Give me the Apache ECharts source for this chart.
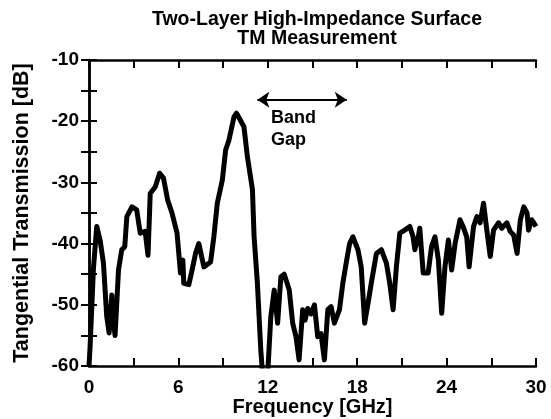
<!DOCTYPE html>
<html><head><meta charset="utf-8">
<script src="https://cdn.jsdelivr.net/npm/echarts@6/dist/echarts.min.js"></script>
<style>html,body{margin:0;padding:0;background:#fff}#c{width:551px;height:419px}</style>
</head><body><div id="c"></div>
<script>
const titleLines = ['Two-Layer High-Impedance Surface', 'TM Measurement'];
const xName = 'Frequency [GHz]';
const yName = 'Tangential Transmission [dB]';
const xTicks = [0, 6, 12, 18, 24, 30];
const yTicks = [-10, -20, -30, -40, -50, -60];
const bandGap = [11.3, 17.3];
const bandGapLevel = -16.5;
const bandGapText = ['Band', 'Gap'];

const freq = [0, 0.07, 0.3, 0.52, 0.75, 0.97, 1.19, 1.35, 1.53, 1.6, 1.75, 1.98, 2.2, 2.4, 2.54, 2.88, 3.2, 3.44, 3.77, 3.96, 4.11, 4.45, 4.74, 5.0, 5.28, 5.57, 5.91, 6.14, 6.3, 6.36, 6.7, 6.92, 7.15, 7.37, 7.71, 8.16, 8.38, 8.61, 8.95, 9.17, 9.39, 9.73, 9.9, 10.4, 10.63, 10.97, 11.08, 11.3, 11.53, 11.64, 12.0, 12.2, 12.43, 12.66, 12.88, 13.1, 13.44, 13.67, 13.89, 14.1, 14.34, 14.5, 14.68, 14.9, 15.13, 15.35, 15.57, 15.8, 16.03, 16.25, 16.47, 16.81, 17.04, 17.26, 17.49, 17.71, 18.05, 18.27, 18.5, 18.73, 18.95, 19.29, 19.62, 19.96, 20.18, 20.41, 20.63, 20.86, 21.19, 21.53, 21.75, 21.87, 22.1, 22.2, 22.43, 22.76, 22.99, 23.22, 23.45, 23.67, 23.89, 24.12, 24.34, 24.57, 24.9, 25.1, 25.35, 25.51, 25.81, 26.03, 26.25, 26.48, 26.7, 26.93, 27.15, 27.49, 27.7, 28.05, 28.27, 28.5, 28.73, 28.95, 29.18, 29.4, 29.5, 29.7, 29.85, 30];
const trans = [-60, -57, -44, -37.2, -39.5, -43.2, -51.9, -54.6, -48.4, -52, -55, -44.3, -41, -40.5, -35.6, -34, -34.5, -38.3, -38, -41.9, -31.8, -30.7, -28.5, -29.3, -32.9, -35.0, -38.3, -44.8, -42.7, -46.5, -46.7, -44.3, -41.6, -40.0, -43.8, -43, -38.9, -33.4, -29.6, -24.7, -23.1, -19.3, -18.7, -20.9, -25.8, -31.2, -38.9, -46.4, -57.4, -61, -61, -52, -47.6, -53, -45.4, -45, -47.6, -53, -55.2, -59, -50.8, -52.5, -50.6, -51.5, -50, -55.2, -54.7, -59, -50.8, -50.3, -53, -50.8, -46.4, -43.2, -40.0, -38.9, -41, -43.8, -53, -49.7, -46.4, -41.6, -41, -43.2, -46.4, -50.8, -43.8, -38.3, -37.8, -37.2, -38.9, -41, -38.9, -37.5, -44.8, -44.8, -40.5, -38.9, -42.7, -51.4, -43.8, -39.4, -44.3, -40.0, -36.1, -37.2, -38.9, -43.8, -37.2, -35.6, -36.6, -33.4, -37.8, -42.1, -37.8, -36.6, -37.5, -36.6, -38, -38.6, -41.6, -36.1, -34, -35, -37.8, -36.1, -36.6, -37.2];

const font = 'Liberation Sans, Arial, sans-serif';
const chart = echarts.init(document.getElementById('c'), null, {renderer: 'canvas'});
const xMin = 0, xMax = 30, yMin = -60, yMax = -10;
const tickStyle = {show: true, inside: true, length: 8, lineStyle: {color: '#000', width: 2}};
const lineStyle = {show: true, lineStyle: {color: '#000', width: 2.5}};
const tickLbl = {color: '#000', fontFamily: font, fontWeight: 'bold', fontSize: 19};

chart.setOption({
  animation: false,
  backgroundColor: '#fff',
  title: {
    text: titleLines.join('\n'), left: 312, top: 5, textAlign: 'center',
    textStyle: {fontFamily: font, fontWeight: 'bold', fontSize: 19.5, lineHeight: 19, color: '#000'}
  },
  grid: {left: 89, top: 60, width: 447, height: 306, show: false, containLabel: false, outerBoundsMode: 'none'},
  xAxis: [{
    type: 'value', min: xMin, max: xMax, interval: 3, position: 'bottom',
    name: xName, nameLocation: 'middle', nameGap: 31, nameMoveOverlap: false,
    nameTextStyle: {color: '#000', fontFamily: font, fontWeight: 'bold', fontSize: 20},
    axisLine: lineStyle, axisTick: tickStyle, splitLine: {show: false},
    axisLabel: Object.assign({margin: 12, formatter: v => (xTicks.includes(v) ? String(v) : '')}, tickLbl)
  }, {
    type: 'value', min: xMin, max: xMax, interval: 3, position: 'top',
    axisLine: lineStyle, axisTick: tickStyle, splitLine: {show: false}, axisLabel: {show: false}
  }],
  yAxis: [{
    type: 'value', min: yMin, max: yMax, interval: 5, position: 'left',
    name: yName, nameLocation: 'middle', nameGap: 56, nameMoveOverlap: false,
    nameTextStyle: {color: '#000', fontFamily: font, fontWeight: 'bold', fontSize: 21.5},
    axisLine: lineStyle, axisTick: tickStyle, splitLine: {show: false},
    axisLabel: Object.assign({margin: 10, formatter: v => (yTicks.includes(v) ? String(v) : '')}, tickLbl)
  }, {
    type: 'value', min: yMin, max: yMax, interval: 5, position: 'right',
    axisLine: lineStyle, axisTick: tickStyle, splitLine: {show: false}, axisLabel: {show: false}
  }],
  series: [{
    type: 'line', data: freq.map((f, i) => [f, trans[i]]),
    showSymbol: false, clip: true,
    lineStyle: {color: '#000', width: 5, join: 'round'},
    markLine: {
      silent: true, symbol: ['arrow', 'arrow'], symbolSize: [12, 12],
      lineStyle: {color: '#000', width: 2, type: 'solid'},
      label: {show: false},
      data: [[{coord: [bandGap[0], bandGapLevel]}, {coord: [bandGap[1], bandGapLevel]}]]
    },
    markPoint: {
      silent: true, symbol: 'circle', symbolSize: 1, itemStyle: {color: 'rgba(0,0,0,0)'},
      label: {show: true, position: 'bottom', distance: 7, formatter: bandGapText.join('\n'), align: 'left',
        offset: [-31, 0], color: '#000', fontFamily: font, fontWeight: 'bold', fontSize: 18, lineHeight: 22},
      data: [{coord: [(bandGap[0] + bandGap[1]) / 2, bandGapLevel]}]
    }
  }]
});
</script></body></html>
